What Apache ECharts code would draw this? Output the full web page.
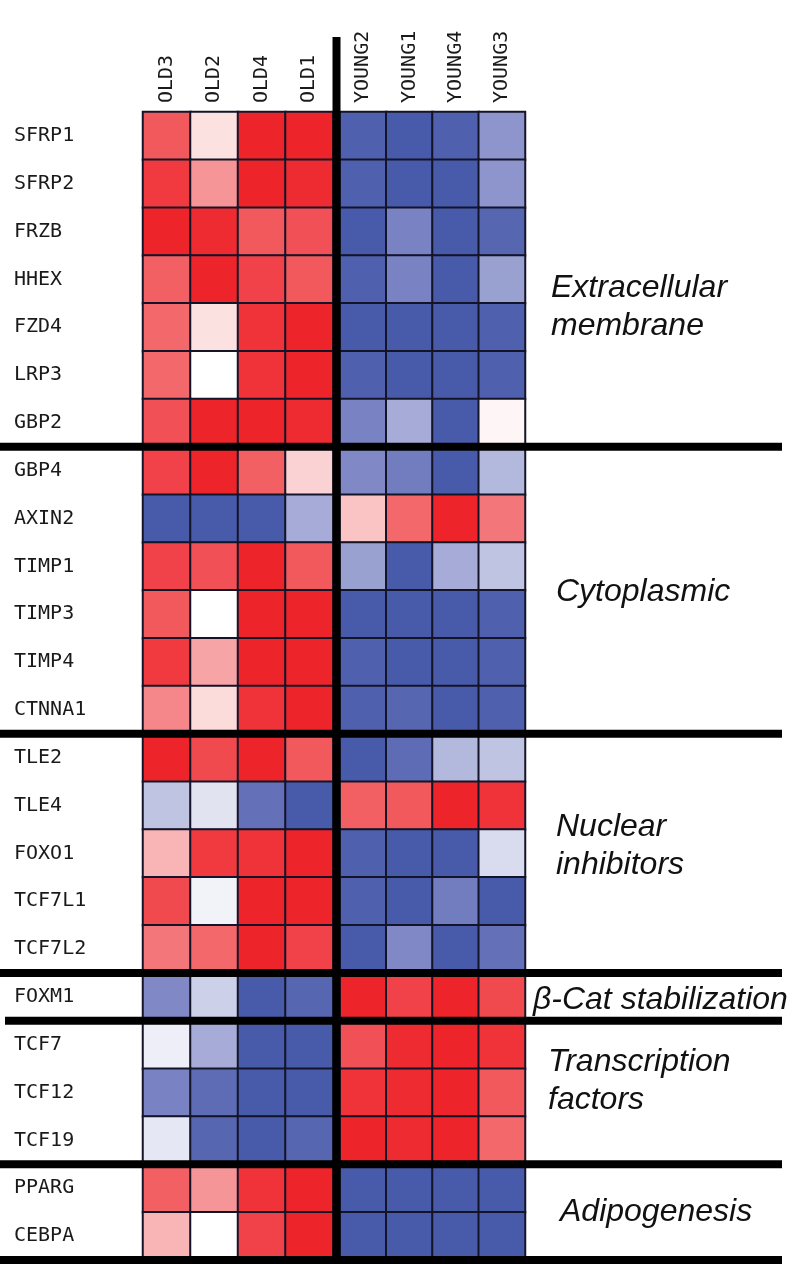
<!DOCTYPE html>
<html>
<head>
<meta charset="utf-8">
<script src="https://cdn.jsdelivr.net/npm/echarts@6/dist/echarts.min.js"></script>
<style>
    html, body { margin: 0; padding: 0; background: #fff; }
    #main { width: 798px; height: 1280px; }
</style>
</head>
<body>
<div id="main"></div>
<script>
const genes = ['SFRP1', 'SFRP2', 'FRZB', 'HHEX', 'FZD4', 'LRP3', 'GBP2',
    'GBP4', 'AXIN2', 'TIMP1', 'TIMP3', 'TIMP4', 'CTNNA1',
    'TLE2', 'TLE4', 'FOXO1', 'TCF7L1', 'TCF7L2',
    'FOXM1',
    'TCF7', 'TCF12', 'TCF19',
    'PPARG', 'CEBPA'];
const oldSamples = ['OLD3', 'OLD2', 'OLD4', 'OLD1'];
const youngSamples = ['YOUNG2', 'YOUNG1', 'YOUNG4', 'YOUNG3'];

// relative expression, -1 (blue) .. 1 (red), one row per gene
const oldValues = [
    [0.6, 0.1, 0.95, 0.95],
    [0.8, 0.35, 0.95, 0.9],
    [0.95, 0.9, 0.6, 0.65],
    [0.55, 0.95, 0.75, 0.6],
    [0.5, 0.1, 0.85, 0.95],
    [0.5, 0.0, 0.85, 0.95],
    [0.65, 0.95, 0.95, 0.9],
    [0.75, 0.95, 0.55, 0.15],
    [-0.9, -0.9, -0.9, -0.35],
    [0.75, 0.65, 0.95, 0.6],
    [0.6, 0.0, 0.95, 0.95],
    [0.8, 0.3, 0.95, 0.95],
    [0.4, 0.12, 0.85, 0.95],
    [0.95, 0.7, 0.95, 0.6],
    [-0.25, -0.12, -0.7, -0.9],
    [0.25, 0.8, 0.85, 0.95],
    [0.7, -0.05, 0.95, 0.95],
    [0.45, 0.5, 0.95, 0.75],
    [-0.5, -0.2, -0.9, -0.8],
    [-0.07, -0.35, -0.9, -0.9],
    [-0.55, -0.75, -0.9, -0.9],
    [-0.1, -0.8, -0.9, -0.8],
    [0.55, 0.35, 0.85, 0.95],
    [0.25, 0.0, 0.75, 0.95]
];
const youngValues = [
    [-0.85, -0.9, -0.85, -0.45],
    [-0.85, -0.9, -0.9, -0.45],
    [-0.9, -0.55, -0.9, -0.8],
    [-0.85, -0.55, -0.9, -0.4],
    [-0.9, -0.9, -0.9, -0.85],
    [-0.85, -0.9, -0.9, -0.85],
    [-0.55, -0.35, -0.9, 0.03],
    [-0.5, -0.6, -0.9, -0.3],
    [0.2, 0.5, 0.95, 0.45],
    [-0.4, -0.9, -0.35, -0.25],
    [-0.9, -0.9, -0.9, -0.85],
    [-0.85, -0.9, -0.9, -0.85],
    [-0.85, -0.8, -0.9, -0.85],
    [-0.9, -0.75, -0.3, -0.25],
    [0.55, 0.6, 0.95, 0.85],
    [-0.85, -0.9, -0.9, -0.15],
    [-0.85, -0.9, -0.6, -0.9],
    [-0.9, -0.5, -0.9, -0.7],
    [0.95, 0.75, 0.95, 0.7],
    [0.65, 0.9, 0.95, 0.85],
    [0.85, 0.9, 0.95, 0.6],
    [0.95, 0.9, 0.95, 0.5],
    [-0.9, -0.9, -0.9, -0.9],
    [-0.9, -0.9, -0.9, -0.9]
];

// groups of genes, by first and last row
const sectionNames = ['Extracellular\nmembrane', 'Cytoplasmic', 'Nuclear\ninhibitors',
    'β-Cat stabilization', 'Transcription\nfactors', 'Adipogenesis'];
const sectionFirst = [0, 7, 13, 18, 19, 22];
const sectionLast = [6, 12, 17, 18, 21, 23];

function toCells(rows) {
    const cells = [];
    rows.forEach((row, y) => {
        row.forEach((v, x) => cells.push([x, y, v]));
    });
    return cells;
}

const chart = echarts.init(document.getElementById('main'));

const labelFont = {
    fontFamily: 'DejaVu Sans Mono',
    fontSize: 20,
    color: '#1a1a1a'
};

function xAxisFor(samples, idx) {
    return {
        type: 'category',
        gridIndex: idx,
        position: 'top',
        data: samples,
        axisLine: { show: false },
        axisTick: { show: false },
        axisLabel: Object.assign({ rotate: -90, margin: 9 }, labelFont),
        splitLine: { show: false }
    };
}

function yAxisFor(idx, showLabels) {
    return {
        type: 'category',
        gridIndex: idx,
        inverse: true,
        data: genes,
        axisLine: { show: false },
        axisTick: { show: false },
        axisLabel: Object.assign({ show: showLabels, align: 'left', margin: 129 }, labelFont),
        splitLine: { show: false }
    };
}

function heatSeries(rows, idx) {
    return {
        type: 'heatmap',
        xAxisIndex: idx,
        yAxisIndex: idx,
        data: toCells(rows),
        itemStyle: { borderColor: '#141428', borderWidth: 2 },
        emphasis: { disabled: true },
        animation: false
    };
}

chart.setOption({
    backgroundColor: '#fff',
    animation: false,
    grid: [
        { left: 143, top: 112, width: 190, height: 1148 },
        { left: 340, top: 112, width: 185, height: 1148 }
    ],
    xAxis: [xAxisFor(oldSamples, 0), xAxisFor(youngSamples, 1)],
    yAxis: [yAxisFor(0, true), yAxisFor(1, false)],
    visualMap: {
        show: false,
        min: -1,
        max: 1,
        seriesIndex: [0, 1],
        inRange: { color: ['#3a4ea3', '#8089c6', '#ffffff', '#f2686b', '#ee1c24'] }
    },
    series: [heatSeries(oldValues, 0), heatSeries(youngValues, 1)]
});

// separators and group names, placed from the axes
const rowY = i => chart.convertToPixel({ yAxisIndex: 0 }, genes[i]);
const rowH = rowY(1) - rowY(0);
const boundaryY = i => rowY(0) + (i - 0.5) * rowH;
const colX = (axis, name) => chart.convertToPixel({ xAxisIndex: axis }, name);
const colW = colX(1, youngSamples[1]) - colX(1, youngSamples[0]);
const oldRight = colX(0, oldSamples[3]) + (colX(0, oldSamples[1]) - colX(0, oldSamples[0])) / 2;
const youngLeft = colX(1, youngSamples[0]) - colW / 2;
const youngRight = colX(1, youngSamples[3]) + colW / 2;
const bottomY = boundaryY(genes.length);

const graphics = [];
const cuts = sectionLast.map(r => r + 1);
cuts.forEach((r, k) => {
    const y = boundaryY(r);
    graphics.push({
        type: 'line',
        z: 100,
        shape: { x1: k === 3 ? 5 : 0, y1: y, x2: 782, y2: y },
        style: { stroke: '#000', lineWidth: 8 }
    });
});
const divX = (oldRight + youngLeft) / 2;
graphics.push({
    type: 'line',
    z: 101,
    shape: { x1: divX, y1: 37, x2: divX, y2: bottomY },
    style: { stroke: '#000', lineWidth: 8 }
});

const nameDx = [26, 31, 31, 8, 23, 35];
const nameDy = [28, 2, -7, 3, -11, 0];
sectionNames.forEach((name, k) => {
    const cy = (rowY(sectionFirst[k]) + rowY(sectionLast[k])) / 2 + nameDy[k];
    graphics.push({
        type: 'text',
        z: 102,
        x: youngRight + nameDx[k],
        y: cy,
        style: {
            text: name,
            fontFamily: 'Liberation Sans',
            fontStyle: 'italic',
            fontSize: 32,
            lineHeight: 38,
            fill: '#111',
            verticalAlign: 'middle',
            align: 'left'
        }
    });
});
chart.setOption({ graphic: graphics });
</script>
</body>
</html>
